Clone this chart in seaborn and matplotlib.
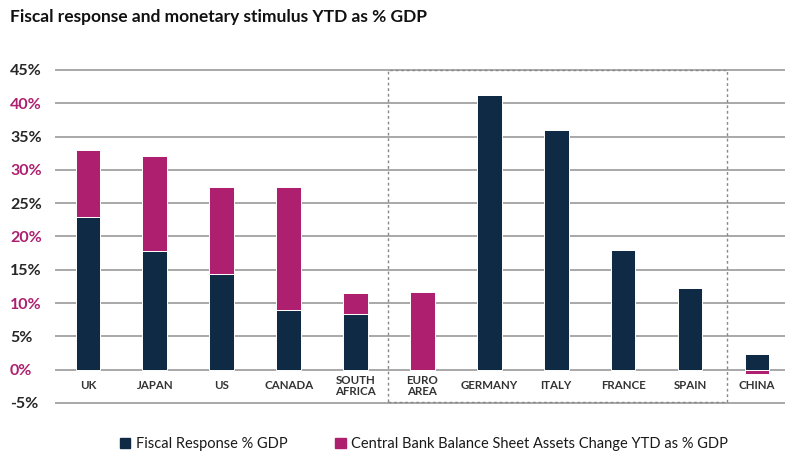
import matplotlib
matplotlib.use("Agg")
import matplotlib.pyplot as plt
from matplotlib.patches import Patch, Rectangle
import seaborn as sns
import pandas as pd
import numpy as np

countries = ["UK", "JAPAN", "US", "CANADA", "SOUTH\nAFRICA", "EURO\nAREA",
             "GERMANY", "ITALY", "FRANCE", "SPAIN", "CHINA"]
fiscal = [23.0, 17.8, 14.3, 9.0, 8.3, 0.0, 41.3, 36.0, 18.0, 12.3, 2.3]
central_bank = [10.0, 14.3, 13.2, 18.5, 3.2, 11.7, 0.0, 0.0, 0.0, 0.0, -0.7]
yticks = [-5, 0, 5, 10, 15, 20, 25, 30, 35, 40, 45]
ytick_labels = [f"{v}%" for v in yticks]

NAVY = "#0e2a45"
MAGENTA = "#ae1f6f"
DARK = "#262626"

sns.set_theme(style="white")
plt.rcParams["font.family"] = ["Lato", "DejaVu Sans"]

df = pd.DataFrame({"country": countries, "fiscal": fiscal, "cb": central_bank})
cb_bottom = [f if c >= 0 else 0.0 for f, c in zip(fiscal, central_bank)]

fig = plt.figure(figsize=(7.85, 4.57), dpi=100)
ax = fig.add_axes([54.5 / 785, 0.1138, 1 - 54.5 / 785, 0.8512 - 0.1138])

for y in yticks:
    ax.axhline(y, color="#a8a8a8", lw=1.4, zorder=0)

sns.barplot(data=df, x="country", y="fiscal", color=NAVY, width=0.37,
            saturation=1, ax=ax, edgecolor="white", linewidth=0.7, zorder=2)
sns.barplot(data=df, x="country", y="cb", color=MAGENTA, width=0.37,
            saturation=1, ax=ax, bottom=cb_bottom, edgecolor="white",
            linewidth=0.7, zorder=2)

ax.set_xlim(-0.5, 10.42)
ax.set_ylim(-5.3, 45.3)
ax.set_xlabel("")
ax.set_ylabel("")
ax.set_xticks([])
ax.set_yticks(yticks)
ax.set_yticklabels(ytick_labels)
ax.tick_params(axis="y", length=0, pad=32, labelsize=11.5)
for lab, v in zip(ax.get_yticklabels(), yticks):
    lab.set_horizontalalignment("left")
    lab.set_fontweight("bold")
    lab.set_color(MAGENTA if v % 10 == 0 else DARK)
for s in ax.spines.values():
    s.set_visible(False)

for i, name in enumerate(countries):
    ax.text(i, -2.4, name, ha="center", va="center", fontsize=8.3,
            color="#333333", linespacing=1.0, fontweight="bold")

rect = Rectangle((4.48, -4.8), 9.55 - 4.48, 45 + 4.8, fill=False,
                 edgecolor="#888888", lw=1.0, linestyle=(0, (2, 2)), zorder=3)
ax.add_patch(rect)

fig.text(10 / 785, 1 - 17 / 457, "Fiscal response and monetary stimulus YTD as % GDP",
         fontsize=12.5, fontweight="bold", color="#111111", ha="left", va="center")

handles = [Patch(color=NAVY, label="Fiscal Response % GDP"),
           Patch(color=MAGENTA, label="Central Bank Balance Sheet Assets Change YTD as % GDP")]
fig.legend(handles=handles, loc="center", bbox_to_anchor=(0.54, 0.028), ncol=2,
           frameon=False, fontsize=10.5, handlelength=0.75, handleheight=0.75,
           handletextpad=0.4, columnspacing=3.2, labelcolor="#1a1a1a")

fig.savefig("out.png", dpi=100)
